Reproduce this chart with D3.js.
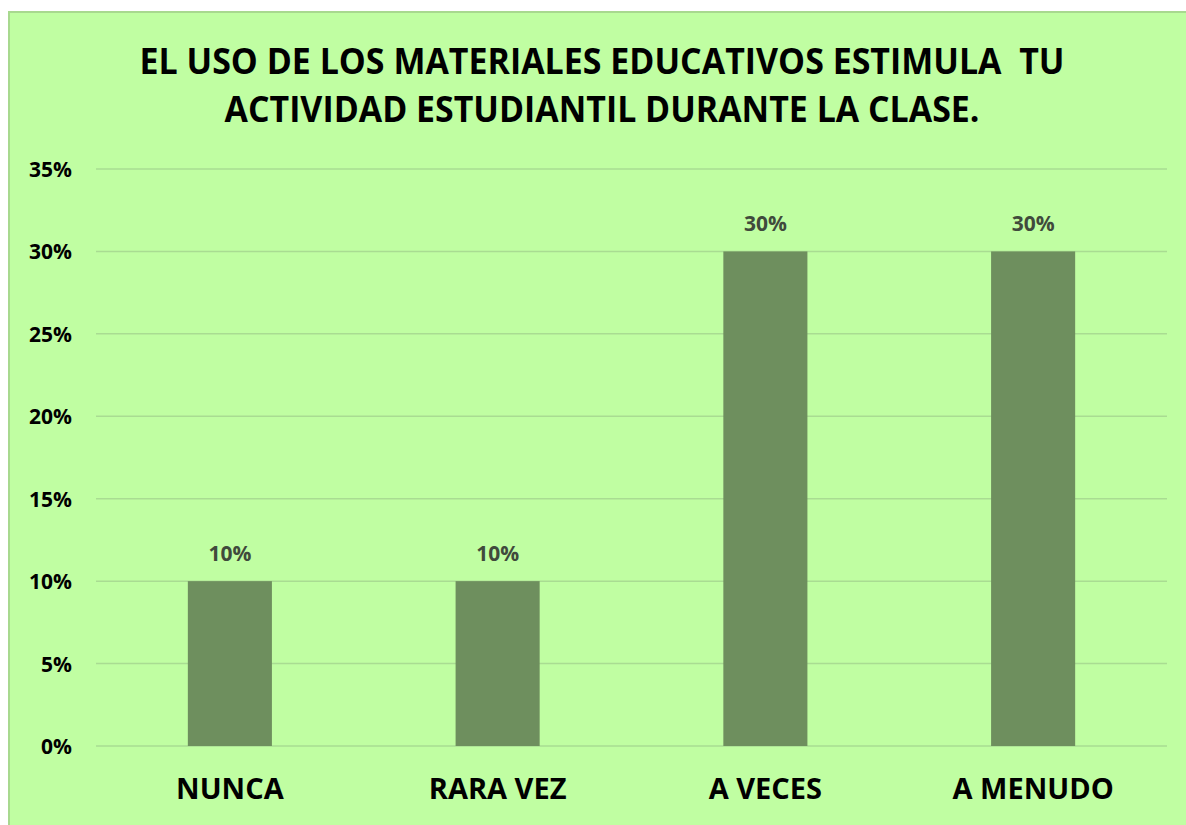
<!DOCTYPE html>
<html>
<head>
<meta charset="utf-8">
<script src="https://cdn.jsdelivr.net/npm/d3@7"></script>
<style>
  body { margin: 0; background: #ffffff; }
  svg { display: block; font-family: "Open Sans", sans-serif; }
</style>
</head>
<body>
<svg width="1186" height="825"></svg>
<script>
// data
let categories = ["NUNCA", "RARA VEZ", "A VECES", "A MENUDO"];
let values = [0.10, 0.10, 0.30, 0.30];
let yTicks = [0, 0.05, 0.10, 0.15, 0.20, 0.25, 0.30, 0.35];
let titleLines = ["EL USO DE LOS MATERIALES EDUCATIVOS ESTIMULA  TU", "ACTIVIDAD ESTUDIANTIL DURANTE LA CLASE."];

let svg = d3.select("svg");

// chart background
svg.append("rect")
    .attr("x", 9).attr("y", 12)
    .attr("width", 1186).attr("height", 830)
    .attr("fill", "#c0fea2")
    .attr("stroke", "#a8d98f")
    .attr("stroke-width", 2);

let margin = {top: 169, right: 19, bottom: 79, left: 96};
let width = 1186 - margin.left - margin.right;
let height = 825 - margin.top - margin.bottom;

let x = d3.scaleBand().domain(categories).range([0, width]).paddingInner(0.686).paddingOuter(0.343);
let y = d3.scaleLinear().domain([0, 0.35]).range([height, 0]);

let g = svg.append("g")
    .attr("transform", "translate(" + margin.left + "," + margin.top + ")");

// title
svg.append("g").selectAll("text")
    .data(titleLines)
    .enter().append("text")
    .attr("x", 602)
    .attr("y", (d, i) => 74 + i * 48)
    .attr("text-anchor", "middle")
    .attr("font-size", 35)
    .attr("font-weight", "bold")
    .attr("textLength", (d, i) => i === 0 ? 925 : 755)
    .attr("lengthAdjust", "spacingAndGlyphs")
    .attr("fill", "#000")
    .style("white-space", "pre")
    .text(d => d);

// gridlines
g.append("g")
    .selectAll("line")
    .data(yTicks)
    .enter().append("line")
    .attr("x1", 0).attr("x2", width)
    .attr("y1", d => y(d)).attr("y2", d => y(d))
    .attr("stroke", "#a9dc92")
    .attr("stroke-width", 1.5);

// y axis
let yAxis = g.append("g")
    .call(d3.axisLeft(y).tickValues(yTicks).tickFormat(d3.format(".0%")).tickSize(0).tickPadding(24));
yAxis.select(".domain").remove();
yAxis.selectAll("text")
    .attr("font-family", "Open Sans, sans-serif")
    .attr("font-size", 21)
    .attr("font-weight", "bold")
    .attr("fill", "#000")
    .attr("dy", "0.36em");

// bars
g.selectAll(".bar")
    .data(values)
    .enter().append("rect")
    .attr("class", "bar")
    .attr("x", (d, i) => x(categories[i]))
    .attr("y", d => y(d))
    .attr("width", x.bandwidth())
    .attr("height", d => height - y(d))
    .attr("fill", "#6e8f5e");

// data labels
g.selectAll(".label")
    .data(values)
    .enter().append("text")
    .attr("class", "label")
    .attr("x", (d, i) => x(categories[i]) + x.bandwidth() / 2)
    .attr("y", d => y(d) - 20)
    .attr("text-anchor", "middle")
    .attr("font-size", 21)
    .attr("font-weight", "bold")
    .attr("fill", "#404a3c")
    .text(d => d3.format(".0%")(d));

// x axis
let xAxis = g.append("g")
    .attr("transform", "translate(0," + height + ")")
    .call(d3.axisBottom(x).tickSize(0).tickPadding(32));
xAxis.select(".domain").remove();
xAxis.selectAll("text")
    .attr("font-family", "Open Sans, sans-serif")
    .attr("font-size", 29)
    .attr("font-weight", "bold")
    .attr("fill", "#000")
    .attr("dy", "0.71em");
</script>
</body>
</html>
